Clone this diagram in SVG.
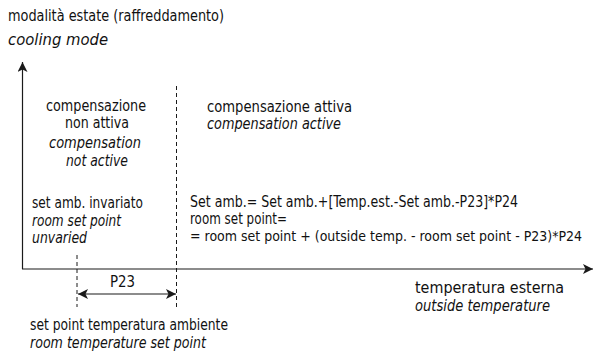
<svg xmlns="http://www.w3.org/2000/svg" width="594" height="357" viewBox="0 0 594 357">
<defs>
<style>
text{font-family:"DejaVu Sans Condensed","Liberation Sans Narrow","Liberation Sans",sans-serif;font-size:15px;fill:#111}
.t{font-size:16px}
.s{font-size:14px}
.i{font-style:italic}
.m{text-anchor:middle}
.ax{stroke:#1a1a1a;stroke-width:1.2;fill:none}
.d{stroke:#1a1a1a;stroke-width:1;stroke-dasharray:4 3;fill:none}
</style>
<marker id="ah" viewBox="0 0 10 10" refX="10" refY="5" markerWidth="10" markerHeight="10" markerUnits="userSpaceOnUse" orient="auto-start-reverse">
<path d="M0,0 L10,5 L0,10 L2.5,5 Z" fill="#1a1a1a"/>
</marker>
</defs>
<rect width="594" height="357" fill="#fff"/>
<g id="title">
<text class="t" x="8" y="21" textLength="216" lengthAdjust="spacingAndGlyphs">modalità estate (raffreddamento)</text>
<text class="t i" x="8" y="45" textLength="100" lengthAdjust="spacingAndGlyphs">cooling mode</text>
</g>
<g id="connectors">
<path class="ax" d="M22.5,269 V62" marker-end="url(#ah)"/>
<path class="ax" d="M22,269 H593" marker-end="url(#ah)"/>
<path class="d" d="M176.5,86 V307"/>
<path class="d" d="M77,255 V307"/>
<path class="ax" d="M78,294 H176" marker-start="url(#ah)" marker-end="url(#ah)"/>
</g>
<g id="zone-inactive">
<text class="m" x="96" y="111" textLength="100" lengthAdjust="spacingAndGlyphs">compensazione</text>
<text class="m" x="97" y="128" textLength="64" lengthAdjust="spacingAndGlyphs">non attiva</text>
<text class="m i" x="95" y="148" textLength="92" lengthAdjust="spacingAndGlyphs">compensation</text>
<text class="m i" x="97" y="166" textLength="62" lengthAdjust="spacingAndGlyphs">not active</text>
<text x="32" y="208" textLength="111" lengthAdjust="spacingAndGlyphs">set amb. invariato</text>
<text class="i" x="32" y="226" textLength="89" lengthAdjust="spacingAndGlyphs">room set point</text>
<text class="i" x="32" y="243" textLength="55" lengthAdjust="spacingAndGlyphs">unvaried</text>
</g>
<g id="zone-active">
<text x="207" y="112" textLength="145" lengthAdjust="spacingAndGlyphs">compensazione attiva</text>
<text class="i" x="207" y="129" textLength="134" lengthAdjust="spacingAndGlyphs">compensation active</text>
<text x="190" y="207" textLength="328" lengthAdjust="spacingAndGlyphs">Set amb.= Set amb.+[Temp.est.-Set amb.-P23]*P24</text>
<text x="190" y="224" textLength="97" lengthAdjust="spacingAndGlyphs">room set point=</text>
<text class="s" x="190" y="241" textLength="392" lengthAdjust="spacingAndGlyphs">= room set point + (outside temp. - room set point - P23)*P24</text>
</g>
<g id="p23">
<text x="110" y="287" textLength="25" lengthAdjust="spacingAndGlyphs">P23</text>
</g>
<g id="x-label">
<text class="t" x="415" y="293" textLength="149" lengthAdjust="spacingAndGlyphs">temperatura esterna</text>
<text class="i" x="415" y="311" textLength="135" lengthAdjust="spacingAndGlyphs">outside temperature</text>
</g>
<g id="setpoint-label">
<text x="30" y="330" textLength="198" lengthAdjust="spacingAndGlyphs">set point temperatura ambiente</text>
<text class="i" x="30" y="348" textLength="176" lengthAdjust="spacingAndGlyphs">room temperature set point</text>
</g>
</svg>
